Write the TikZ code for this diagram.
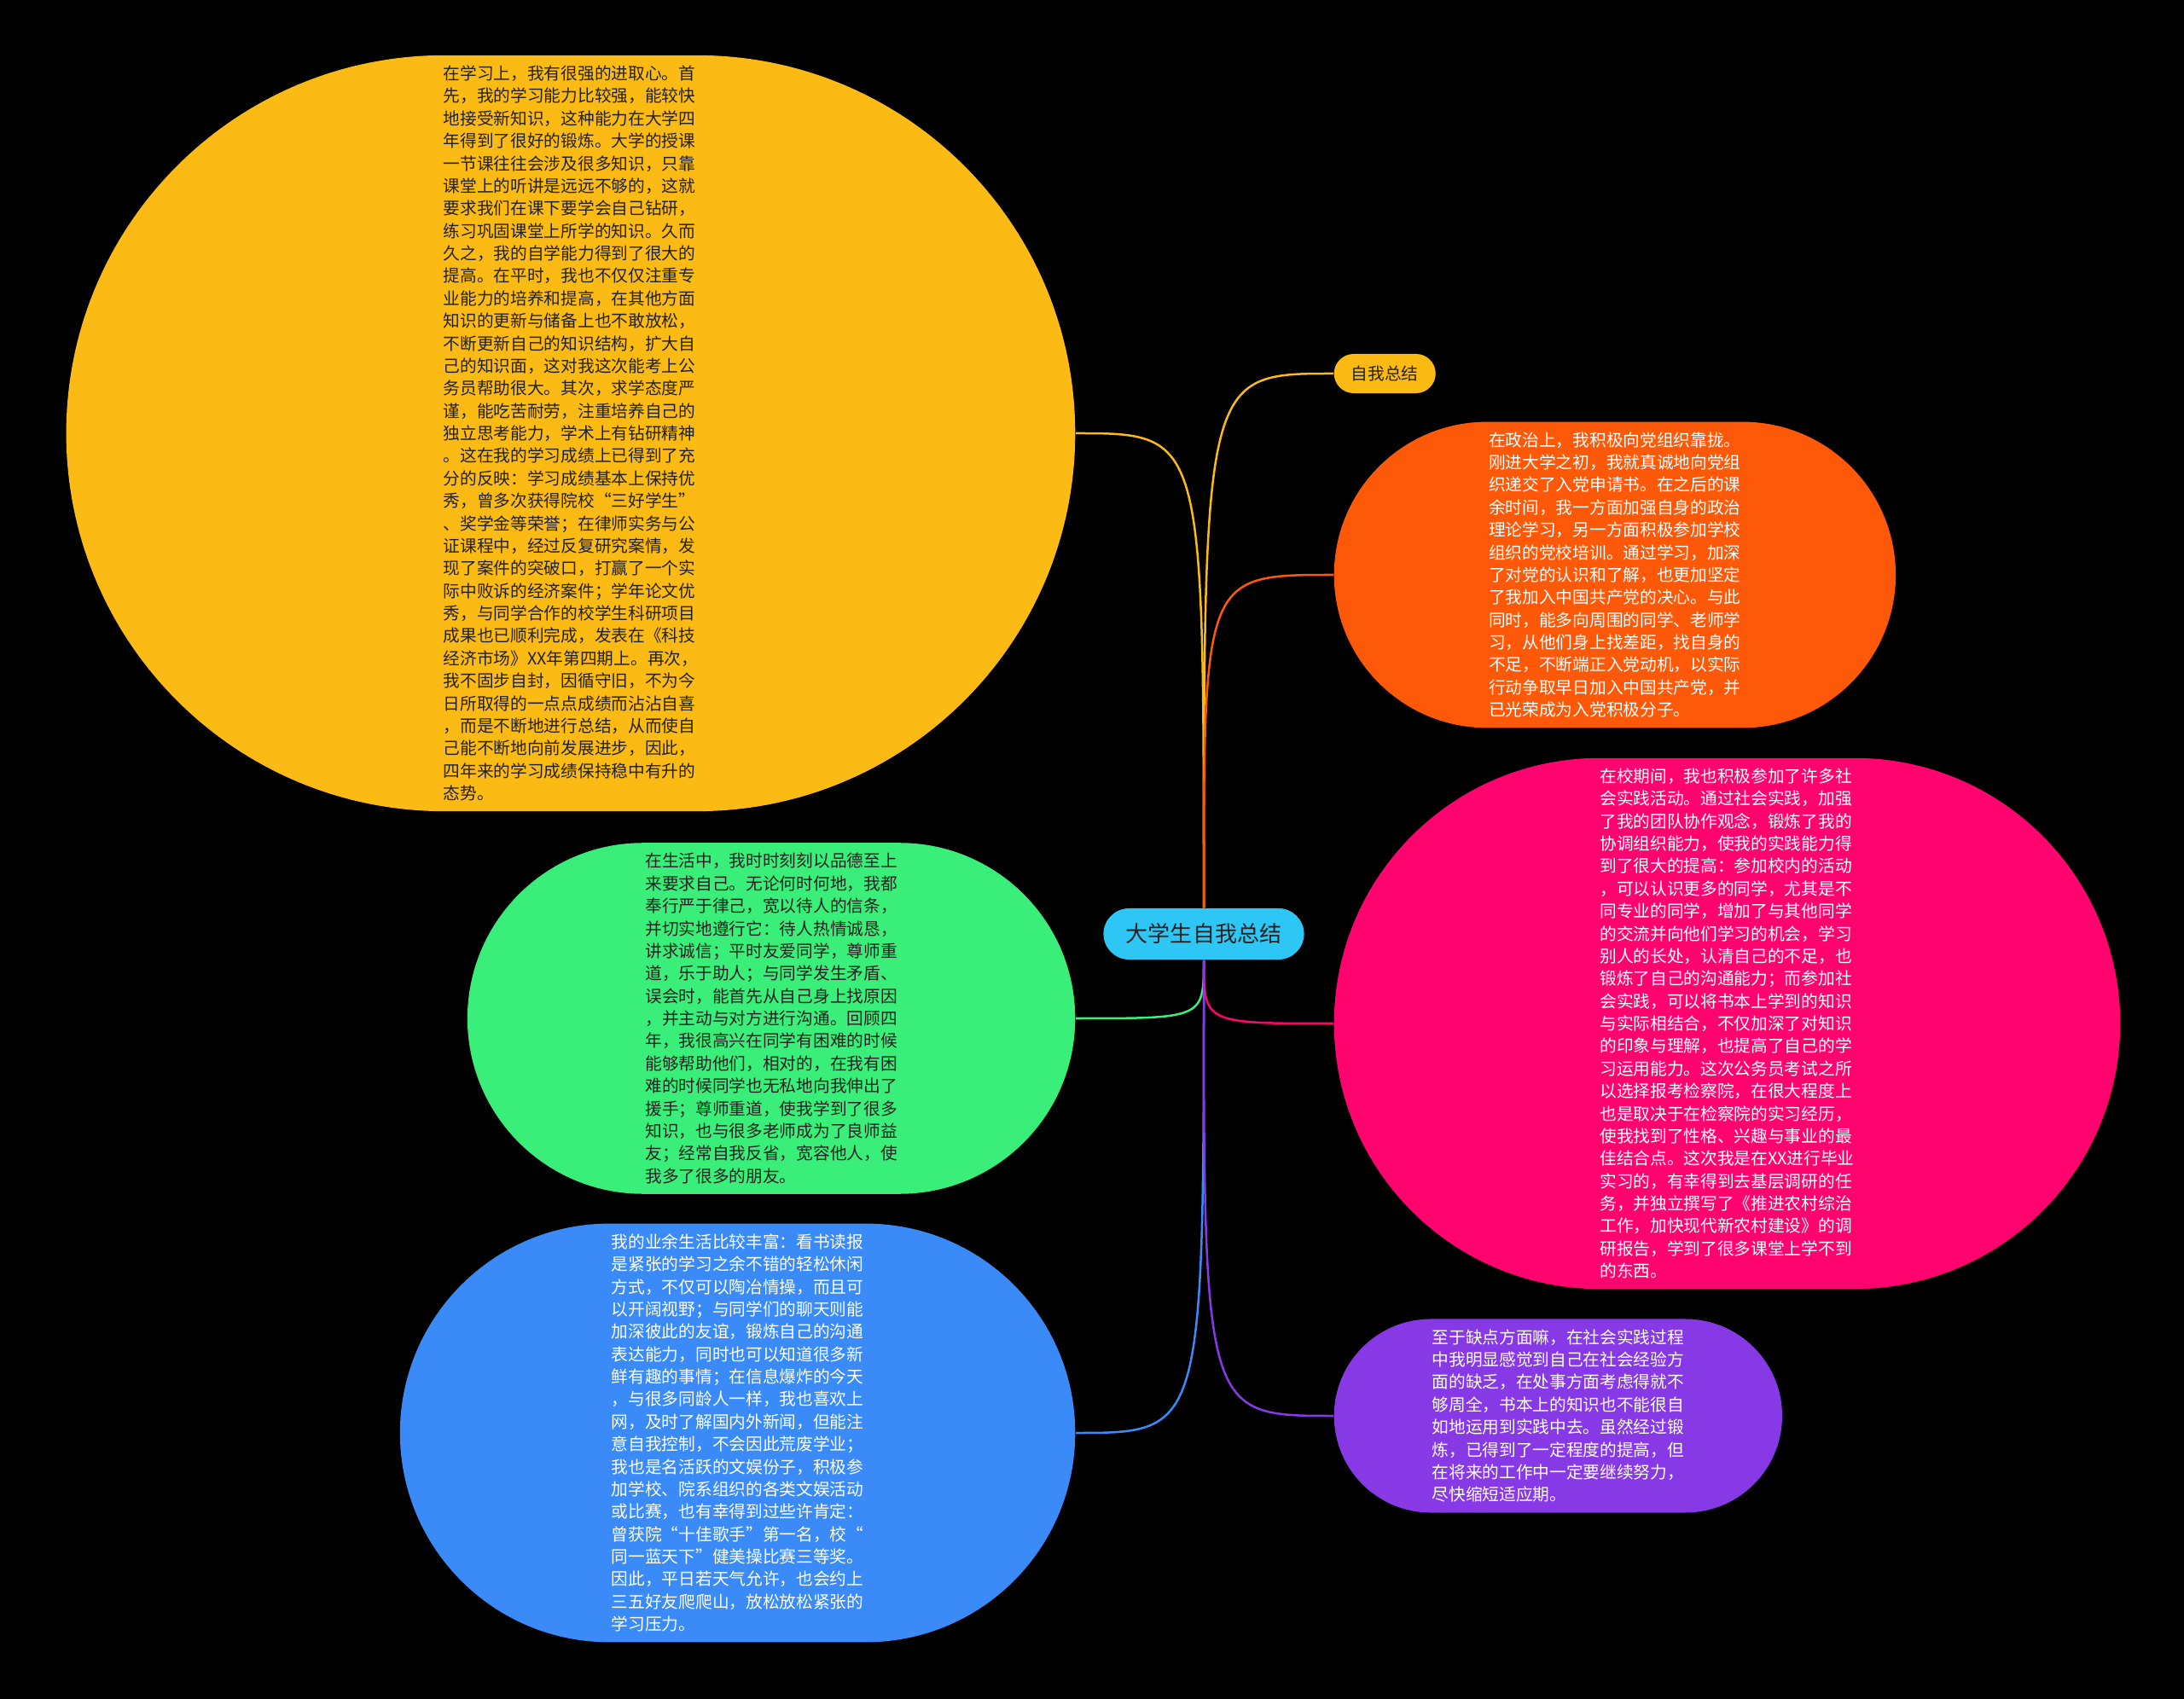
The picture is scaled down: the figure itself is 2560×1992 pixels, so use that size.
\documentclass[tikz,border=0pt]{standalone}
\usepackage{fontspec}
\newfontfamily\cjk{Noto Sans CJK SC}
\tikzset{>=stealth}
\usetikzlibrary{shapes.misc}
\usetikzlibrary{backgrounds}
\definecolor{rootblue}{HTML}{2EC6F5}
\definecolor{sumyellow}{HTML}{FBBA14}
\definecolor{polorange}{HTML}{FE5809}
\definecolor{pracpink}{HTML}{FF046E}
\definecolor{lifegreen}{HTML}{3AEE7A}
\definecolor{hobbyblue}{HTML}{3A8BF8}
\definecolor{defpurple}{HTML}{8739E6}
\definecolor{darktext}{HTML}{222222}
\tikzset{
  topic/.style={rounded rectangle, fill=#1, inner xsep=0.5mm, inner ysep=1.2mm,
    align=left, font={\cjk\fontsize{5.6pt}{7.5pt}\selectfont}},
  lighttext/.style={text=white},
  darkfont/.style={text=darktext},
  link/.style={draw=#1, line width=0.25mm}
}

\begin{document}
\begin{tikzpicture}[x=0.01cm,y=-0.01cm]
\useasboundingbox (0,0) rectangle (2560,1992);
\begin{scope}[on background layer]
\fill[black] (0,0) rectangle (2560,1992);
\end{scope}

% centre
\node[rounded rectangle, fill=rootblue, darkfont, minimum height=6mm, minimum width=2.45cm,
  inner xsep=0.5mm, font={\cjk\fontsize{7.4pt}{9pt}\selectfont}] (root) at (1411,1095) {大学生自我总结};

% right side
\node[rounded rectangle, fill=sumyellow, darkfont, minimum height=4.6mm, minimum width=1.23cm,
  inner xsep=0.2mm, font={\cjk\fontsize{5.6pt}{7pt}\selectfont}, anchor=west] (selfsum) at (1563,438) {自我总结};

\node[topic=polorange, lighttext, minimum width=6.68cm, anchor=west] (politics) at (1563,674) {%
在政治上，我积极向党组织靠拢。\\
刚进大学之初，我就真诚地向党组\\
织递交了入党申请书。在之后的课\\
余时间，我一方面加强自身的政治\\
理论学习，另一方面积极参加学校\\
组织的党校培训。通过学习，加深\\
了对党的认识和了解，也更加坚定\\
了我加入中国共产党的决心。与此\\
同时，能多向周围的同学、老师学\\
习，从他们身上找差距，找自身的\\
不足，不断端正入党动机，以实际\\
行动争取早日加入中国共产党，并\\
已光荣成为入党积极分子。};

\node[topic=pracpink, lighttext, minimum width=9.31cm, anchor=west] (practice) at (1563,1200) {%
在校期间，我也积极参加了许多社\\
会实践活动。通过社会实践，加强\\
了我的团队协作观念，锻炼了我的\\
协调组织能力，使我的实践能力得\\
到了很大的提高：参加校内的活动\\
，可以认识更多的同学，尤其是不\\
同专业的同学，增加了与其他同学\\
的交流并向他们学习的机会，学习\\
别人的长处，认清自己的不足，也\\
锻炼了自己的沟通能力；而参加社\\
会实践，可以将书本上学到的知识\\
与实际相结合，不仅加深了对知识\\
的印象与理解，也提高了自己的学\\
习运用能力。这次公务员考试之所\\
以选择报考检察院，在很大程度上\\
也是取决于在检察院的实习经历，\\
使我找到了性格、兴趣与事业的最\\
佳结合点。这次我是在XX进行毕业\\
实习的，有幸得到去基层调研的任\\
务，并独立撰写了《推进农村综治\\
工作，加快现代新农村建设》的调\\
研报告，学到了很多课堂上学不到\\
的东西。};

\node[topic=defpurple, lighttext, minimum width=5.35cm, anchor=west] (defect) at (1563,1660) {%
至于缺点方面嘛，在社会实践过程\\
中我明显感觉到自己在社会经验方\\
面的缺乏，在处事方面考虑得就不\\
够周全，书本上的知识也不能很自\\
如地运用到实践中去。虽然经过锻\\
炼，已得到了一定程度的提高，但\\
在将来的工作中一定要继续努力，\\
尽快缩短适应期。};

% left side
\node[topic=sumyellow, darkfont, minimum width=11.92cm, anchor=east] (study) at (1261,508) {%
在学习上，我有很强的进取心。首\\
先，我的学习能力比较强，能较快\\
地接受新知识，这种能力在大学四\\
年得到了很好的锻炼。大学的授课\\
一节课往往会涉及很多知识，只靠\\
课堂上的听讲是远远不够的，这就\\
要求我们在课下要学会自己钻研，\\
练习巩固课堂上所学的知识。久而\\
久之，我的自学能力得到了很大的\\
提高。在平时，我也不仅仅注重专\\
业能力的培养和提高，在其他方面\\
知识的更新与储备上也不敢放松，\\
不断更新自己的知识结构，扩大自\\
己的知识面，这对我这次能考上公\\
务员帮助很大。其次，求学态度严\\
谨，能吃苦耐劳，注重培养自己的\\
独立思考能力，学术上有钻研精神\\
。这在我的学习成绩上已得到了充\\
分的反映：学习成绩基本上保持优\\
秀，曾多次获得院校“三好学生”\\
、奖学金等荣誉；在律师实务与公\\
证课程中，经过反复研究案情，发\\
现了案件的突破口，打赢了一个实\\
际中败诉的经济案件；学年论文优\\
秀，与同学合作的校学生科研项目\\
成果也已顺利完成，发表在《科技\\
经济市场》XX年第四期上。再次，\\
我不固步自封，因循守旧，不为今\\
日所取得的一点点成绩而沾沾自喜\\
，而是不断地进行总结，从而使自\\
己能不断地向前发展进步，因此，\\
四年来的学习成绩保持稳中有升的\\
态势。};

\node[topic=lifegreen, darkfont, minimum width=7.22cm, anchor=east] (life) at (1261,1194) {%
在生活中，我时时刻刻以品德至上\\
来要求自己。无论何时何地，我都\\
奉行严于律己，宽以待人的信条，\\
并切实地遵行它：待人热情诚恳，\\
讲求诚信；平时友爱同学，尊师重\\
道，乐于助人；与同学发生矛盾、\\
误会时，能首先从自己身上找原因\\
，并主动与对方进行沟通。回顾四\\
年，我很高兴在同学有困难的时候\\
能够帮助他们，相对的，在我有困\\
难的时候同学也无私地向我伸出了\\
援手；尊师重道，使我学到了很多\\
知识，也与很多老师成为了良师益\\
友；经常自我反省，宽容他人，使\\
我多了很多的朋友。};

\node[topic=hobbyblue, lighttext, minimum width=8.01cm, anchor=east] (hobby) at (1261,1680) {%
我的业余生活比较丰富：看书读报\\
是紧张的学习之余不错的轻松休闲\\
方式，不仅可以陶冶情操，而且可\\
以开阔视野；与同学们的聊天则能\\
加深彼此的友谊，锻炼自己的沟通\\
表达能力，同时也可以知道很多新\\
鲜有趣的事情；在信息爆炸的今天\\
，与很多同龄人一样，我也喜欢上\\
网，及时了解国内外新闻，但能注\\
意自我控制，不会因此荒废学业；\\
我也是名活跃的文娱份子，积极参\\
加学校、院系组织的各类文娱活动\\
或比赛，也有幸得到过些许肯定：\\
曾获院“十佳歌手”第一名，校“\\
同一蓝天下”健美操比赛三等奖。\\
因此，平日若天气允许，也会约上\\
三五好友爬爬山，放松放松紧张的\\
学习压力。};

% connectors
\begin{scope}[on background layer]
\draw[link=sumyellow] (root.north) .. controls (root.north |- study.east) .. (study.east);
\draw[link=sumyellow] (root.north) .. controls (root.north |- selfsum.west) .. (selfsum.west);
\draw[link=polorange] (root.north) .. controls (root.north |- politics.west) .. (politics.west);
\draw[link=lifegreen] (root.south) .. controls (root.south |- life.east) .. (life.east);
\draw[link=hobbyblue] (root.south) .. controls (root.south |- hobby.east) .. (hobby.east);
\draw[link=pracpink] (root.south) .. controls (root.south |- practice.west) .. (practice.west);
\draw[link=defpurple] (root.south) .. controls (root.south |- defect.west) .. (defect.west);
\end{scope}
\end{tikzpicture}
\end{document}
